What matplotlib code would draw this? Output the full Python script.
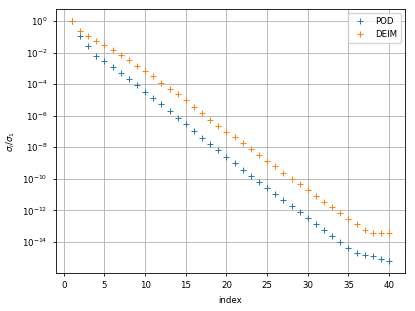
import numpy
import matplotlib
matplotlib.use('Agg')
import matplotlib.pyplot as pyplot


# Data (log10 of sigma_i / sigma_1)

index = numpy.arange(1, 41)

pod_log = [0.0, -0.95, -1.59, -2.20, -2.56, -2.94, -3.30, -3.70, -4.08, -4.47,
           -4.87, -5.27, -5.67, -6.13, -6.54, -6.98, -7.42, -7.80, -8.19, -8.61,
           -8.99, -9.41, -9.79, -10.17, -10.60, -10.93, -11.34, -11.74, -12.08, -12.50,
           -12.88, -13.26, -13.64, -14.00, -14.36, -14.72, -14.83, -14.91, -15.10, -15.21]

deim_log = [0.0, -0.61, -0.95, -1.29, -1.54, -1.86, -2.16, -2.49, -2.83, -3.15,
            -3.51, -3.91, -4.30, -4.65, -5.03, -5.46, -5.86, -6.28, -6.66, -7.02,
            -7.38, -7.76, -8.12, -8.48, -8.86, -9.20, -9.60, -9.98, -10.34, -10.73,
            -11.08, -11.47, -11.80, -12.16, -12.52, -12.86, -13.22, -13.45, -13.45, -13.45]

pod = 10.0 ** numpy.array(pod_log)
deim = 10.0 ** numpy.array(deim_log)


# Plot

pyplot.rcParams['font.size'] = 6.2

fig = pyplot.figure(figsize = (4.15, 3.11), dpi = 100)
ax = fig.add_axes([0.135, 0.122, 0.841, 0.849])

ax.semilogy(index, pod, '+', markersize = 3.8, markeredgewidth = 0.7, label = 'POD')
ax.semilogy(index, deim, '+', markersize = 3.8, markeredgewidth = 0.7, label = 'DEIM')

ax.set_xlabel('index')
ax.set_ylabel('$\\sigma_i/\\sigma_1$')
ax.grid(True, linewidth = 0.6)
ax.set_xticks([0, 5, 10, 15, 20, 25, 30, 35, 40])
ax.legend(loc = 'upper right')

for spine in ax.spines.values():
    spine.set_linewidth(0.6)
ax.tick_params(width = 0.6, length = 2.5)
ax.tick_params(which = 'minor', length = 0)

pyplot.savefig('out.png', dpi = 100)
